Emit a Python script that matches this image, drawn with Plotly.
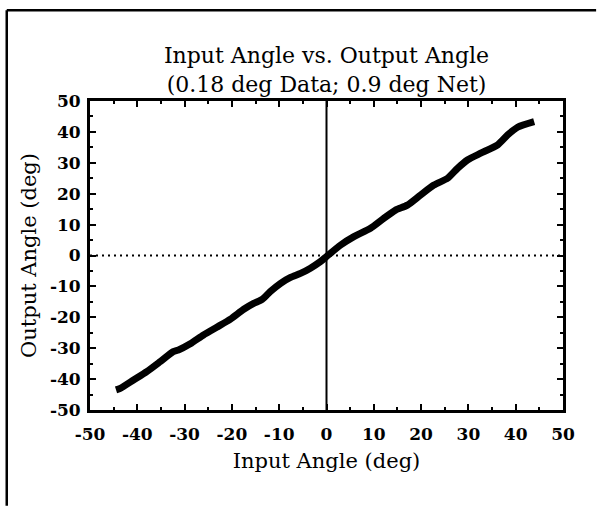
import plotly.graph_objects as go

# Data (deg)
input_angle = [-44.5, -43.6, -40.8, -38.0, -35.2, -32.4, -31.3, -28.8, -26.0, -23.2,
               -20.3, -17.5, -15.4, -13.6, -11.9, -9.7, -7.6, -5.5, -3.4, -1.3,
               0.1, 3.0, 5.8, 9.3, 12.1, 14.6, 17.1, 19.9, 22.7, 25.6,
               27.7, 29.8, 32.6, 36.2, 38.3, 40.4, 43.9]
output_angle = [-43.5, -43.0, -40.3, -37.6, -34.4, -31.1, -30.6, -28.6, -25.7, -23.2,
                -20.6, -17.4, -15.5, -14.2, -11.7, -9.0, -7.1, -5.8, -4.1, -2.0,
                -0.2, 3.4, 6.1, 8.8, 12.0, 14.7, 16.3, 19.6, 22.8, 25.0,
                28.2, 30.9, 33.1, 35.8, 39.0, 41.5, 43.3]
tick_vals = [-50, -40, -30, -20, -10, 0, 10, 20, 30, 40, 50]
tick_text = [str(v) for v in tick_vals]

title_text = "Input Angle vs. Output Angle<br>(0.18 deg Data; 0.9 deg Net)"
x_title = "Input Angle (deg)"
y_title = "Output Angle (deg)"

FONT = "DejaVu Serif"

fig = go.Figure()
fig.add_trace(go.Scatter(x=input_angle, y=output_angle, mode="lines",
                         line=dict(color="black", width=7, shape="spline", smoothing=0.6),
                         showlegend=False, hoverinfo="skip"))

axis_common = dict(
    range=[-50, 50], tickvals=tick_vals, ticktext=tick_text,
    ticks="inside", ticklen=6, tickwidth=2, tickcolor="black",
    showline=True, linecolor="black", linewidth=3, mirror="ticks",
    showgrid=False, zeroline=False,
    minor=dict(ticks="inside", dtick=5, ticklen=3, tickwidth=2, tickcolor="black", showgrid=False),
    tickfont=dict(family=FONT, size=17, color="black", weight="bold"),
)

fig.update_layout(
    width=598, height=506,
    margin=dict(l=90, r=35, t=101, b=96),
    paper_bgcolor="white", plot_bgcolor="white",
    title=dict(text=title_text, x=0.5, xref="paper", xanchor="center",
               y=0.875, yref="container", yanchor="top",
               font=dict(family=FONT, size=22, color="black")),
    xaxis=dict(**axis_common, ticklabelstandoff=7,
               title=dict(text=x_title, standoff=10,
                          font=dict(family=FONT, size=21, color="black"))),
    yaxis=dict(**axis_common, ticklabelstandoff=3,
               title=dict(text=y_title, standoff=8,
                          font=dict(family=FONT, size=21, color="black"))),
)

# reference lines at zero
fig.add_hline(y=0, line=dict(color="black", width=2, dash="2px,4px"), layer="below")
fig.add_vline(x=0, line=dict(color="black", width=2), layer="below")

# outer page frame (top and left edges)
fig.add_shape(type="line", xref="paper", yref="paper", x0=-0.176, x1=1.07, y0=1.294, y1=1.294,
              line=dict(color="black", width=2.5))
fig.add_shape(type="line", xref="paper", yref="paper", x0=-0.176, x1=-0.176, y0=1.294, y1=-0.31,
              line=dict(color="black", width=2.5))

fig.write_html("out.html", config={"displayModeBar": False},
               post_script="document.body.style.margin='0';document.body.style.padding='0';document.body.style.overflow='hidden';")
